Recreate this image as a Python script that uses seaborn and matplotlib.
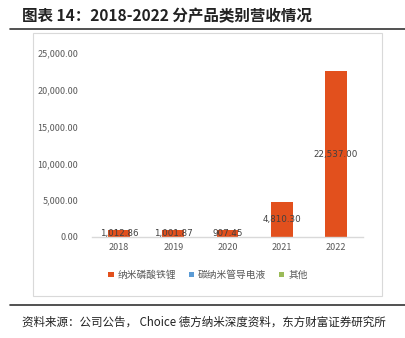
import matplotlib
matplotlib.use("Agg")
import matplotlib.pyplot as plt
import seaborn as sns
import pandas as pd
from matplotlib.patches import Patch, Rectangle
from matplotlib.lines import Line2D

years = ["2018", "2019", "2020", "2021", "2022"]
series_names = ["纳米磷酸铁锂", "碳纳米管导电液", "其他"]
lfp_values = [1012.86, 1001.87, 907.45, 4810.30, 22537.00]
cnt_values = [0, 0, 0, 0, 0]
other_values = [0, 0, 0, 0, 0]
colors = ["#E2501D", "#5B9BD5", "#9BBB59"]
yticks = [0, 5000, 10000, 15000, 20000, 25000]

sns.set_theme(style="white")
plt.rcParams['font.family'] = ['Noto Sans CJK SC', 'DejaVu Sans']

df = pd.DataFrame({
    "year": years * 3,
    "series": [series_names[0]] * 5 + [series_names[1]] * 5 + [series_names[2]] * 5,
    "value": lfp_values + cnt_values + other_values,
})

fig = plt.figure(figsize=(4.06, 3.38), dpi=100)
ax = fig.add_axes([92 / 406, 1 - 237 / 338, 271 / 406, 184 / 338])

sns.barplot(data=df, x="year", y="value", hue="series", hue_order=series_names,
            palette=colors, dodge=False, width=0.4, ax=ax, legend=False,
            edgecolor="none", errorbar=None, saturation=1)

ax.set_ylim(0, 25000)
ax.set_xlim(-0.5, 4.5)
ax.set_yticks(yticks)
ax.set_yticklabels([f"{v:,.2f}" for v in yticks])
ax.set_xlabel("")
ax.set_ylabel("")
for s in ["top", "right", "left"]:
    ax.spines[s].set_visible(False)
ax.spines["bottom"].set_color("#D9D9D9")
ax.spines["bottom"].set_linewidth(1)
ax.tick_params(axis="both", length=0, labelsize=6.5, colors="#595959")
ax.tick_params(axis="y", pad=10)
ax.tick_params(axis="x", pad=4)
ax.grid(False)

for i, v in enumerate(lfp_values):
    ax.text(i, v / 2, f"{v:,.2f}", ha="center", va="center", fontsize=6.3,
            color="#404040", family="DejaVu Sans")

# legend
handles = [Patch(facecolor=c, edgecolor="none") for c in colors]
fig.legend(handles, series_names, loc="center", bbox_to_anchor=(208 / 406, 1 - 275 / 338),
           ncol=3, frameon=False, fontsize=7, labelcolor="#595959",
           handlelength=0.55, handleheight=0.55, handletextpad=0.4, columnspacing=1.3)

# frame box
fig.patches.append(Rectangle((33 / 406, 1 - 296 / 338), 349 / 406, 263 / 338,
                             transform=fig.transFigure, fill=False,
                             edgecolor="#D9D9D9", linewidth=0.8))
# dark rules
fig.add_artist(Line2D([10 / 406, 1], [1 - 28.5 / 338] * 2, color="#333333", linewidth=1.2))
fig.add_artist(Line2D([10 / 406, 1], [1 - 305 / 338] * 2, color="#333333", linewidth=1.2))

fig.text(22 / 406, 1 - 16 / 338, "图表 14：2018-2022 分产品类别营收情况", ha="left", va="center",
         fontsize=11.2, fontweight="bold", color="#222222")
fig.text(22 / 406, 1 - 322 / 338, "资料来源：公司公告， Choice 德方纳米深度资料，东方财富证券研究所",
         ha="left", va="center", fontsize=8.3, color="#222222")

fig.savefig("out.png", dpi=100)
